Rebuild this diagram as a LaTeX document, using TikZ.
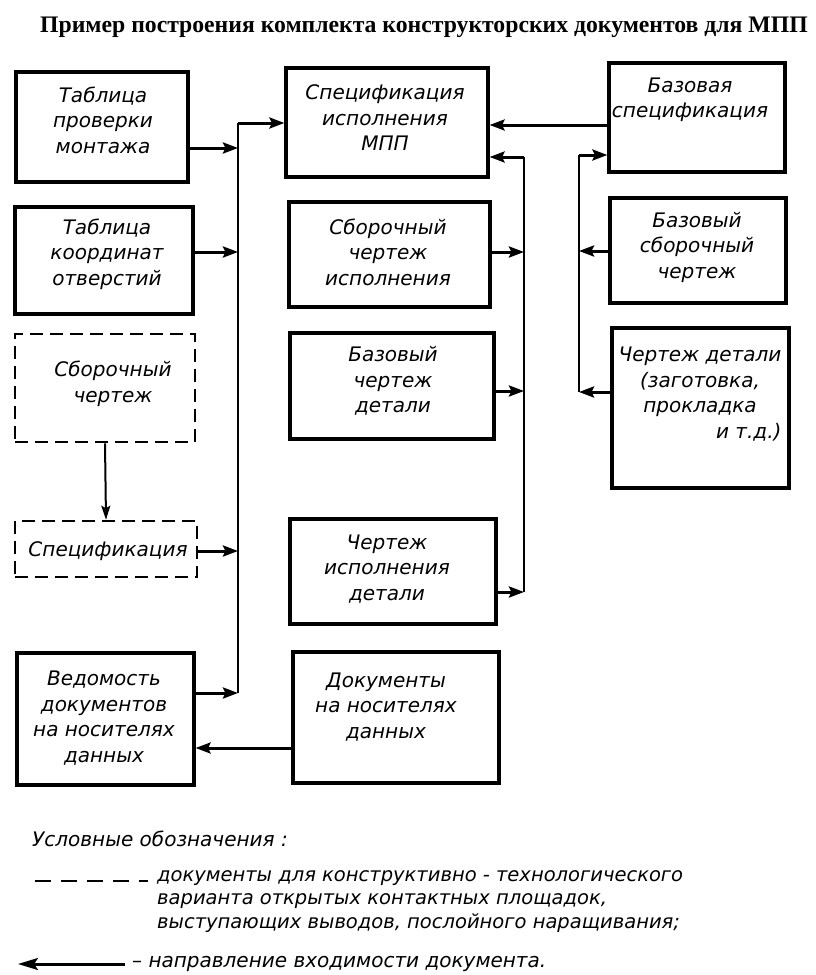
\documentclass[tikz,border=0pt]{standalone}
\usepackage{fontspec}
\setmainfont{Liberation Serif}
\newfontfamily\gost{DejaVu Sans}
\usetikzlibrary{arrows.meta}
\tikzset{
  box/.style={draw, line width=3.2pt, inner sep=0pt},
  dbox/.style={draw, line width=2.6pt, inner sep=0pt, dash pattern=on 13pt off 7pt},
  lbl/.style={font=\gost\itshape\fontsize{20}{25.5}\selectfont, align=center, inner sep=0pt},
  arr/.style={line width=3pt, -{Stealth[length=15pt,width=11pt,inset=2.5pt]}},
  thinarr/.style={line width=2pt, -{Stealth[length=14pt,width=9pt,inset=2.5pt]}},
  bus/.style={line width=2.4pt},
}
\begin{document}
\begin{tikzpicture}[x=1pt,y=-1pt]
\useasboundingbox (0,0) rectangle (816,975);

\node[font=\bfseries\fontsize{23.7}{28}\selectfont, inner sep=0pt] (title) at (424,27) {Пример построения комплекта конструкторских документов для МПП};

% left column
\node[box, minimum width=172pt, minimum height=110pt] (A) at (102,127) {};
\node[lbl] (tA) at (103,120) {Таблица\\проверки\\монтажа};
\node[box, minimum width=178pt, minimum height=107pt] (B) at (104,260.5) {};
\node[lbl] (tB) at (107,254) {Таблица\\координат\\отверстий};
\node[dbox, minimum width=180pt, minimum height=108pt] (C) at (105,388) {};
\node[lbl] (tC) at (113,384) {Сборочный\\чертеж};
\node[dbox, minimum width=182pt, minimum height=56pt] (D) at (106,549) {};
\node[lbl] (tD) at (108,551) {Спецификация};
\node[box, minimum width=177pt, minimum height=132pt] (E) at (105.5,719) {};
\node[lbl] (tE) at (104,718) {Ведомость\\документов\\на носителях\\данных};

% middle column
\node[box, minimum width=202pt, minimum height=109pt] (F) at (387,122.5) {};
\node[lbl] (tF) at (385,118) {Спецификация\\исполнения\\МПП};
\node[box, minimum width=201pt, minimum height=105pt] (G) at (389.5,254.5) {};
\node[lbl] (tG) at (388,252) {Сборочный\\чертеж\\исполнения};
\node[box, minimum width=204pt, minimum height=106pt] (H) at (392,386) {};
\node[lbl] (tH) at (393,381) {Базовый\\чертеж\\детали};
\node[box, minimum width=206pt, minimum height=105pt] (I) at (393,571.5) {};
\node[lbl] (tI) at (387,569) {Чертеж\\исполнения\\детали};
\node[box, minimum width=206pt, minimum height=131pt] (J) at (396,717.5) {};
\node[lbl] (tJ) at (386,707) {Документы\\на носителях\\данных};

% right column
\node[box, minimum width=176pt, minimum height=109pt] (K) at (697,117.5) {};
\node[lbl] (tK) at (690,100) {Базовая\\спецификация};
\node[box, minimum width=176pt, minimum height=105pt] (L) at (698,250.5) {};
\node[lbl] (tL) at (697,247) {Базовый\\сборочный\\чертеж};
\node[box, minimum width=177pt, minimum height=160pt] (M) at (700.5,408) {};
\node[lbl] (tM) at (700,394) {Чертеж детали\\(заготовка,\\прокладка\\\hfill и т.д.)};

% left bus
\coordinate (l0) at (238,123);
\coordinate (l1) at (238,148);
\coordinate (l2) at (238,252);
\coordinate (l3) at (238,551);
\coordinate (l4) at (238,693);
\draw[bus] (l0) -- (l4);
\draw[arr] (l0) -- (l0 -| F.west);
\draw[arr] (l1 -| A.east) -- (l1);
\draw[arr] (l2 -| B.east) -- (l2);
\draw[arr] (l3 -| D.east) -- (l3);
\draw[arr] (l4 -| E.east) -- (l4);

% middle bus
\coordinate (m0) at (524,157);
\coordinate (m1) at (524,252);
\coordinate (m2) at (524,391);
\coordinate (m3) at (524,592);
\draw[bus] (m0) -- (m3);
\draw[arr] (m0) -- (m0 -| F.east);
\draw[arr] (m1 -| G.east) -- (m1);
\draw[arr] (m2 -| H.east) -- (m2);
\draw[arr] (m3 -| I.east) -- (m3);

% right bus
\coordinate (r0) at (579,155);
\coordinate (r1) at (579,251);
\coordinate (r2) at (579,392);
\draw[bus] (r0) -- (r2);
\draw[arr] (r0) -- (r0 -| K.west);
\draw[arr] (r1 -| L.west) -- (r1);
\draw[arr] (r2 -| M.west) -- (r2);

% other connectors
\coordinate (k1) at (600,125);
\draw[arr] (k1 -| K.west) -- (k1 -| F.east);
\draw[thinarr] (C.south) -- (D.north);
\coordinate (j1) at (250,748);
\draw[arr] (j1 -| J.west) -- (j1 -| E.east);

% legend
\node[lbl, anchor=west] (leg) at (32,839) {Условные обозначения :};
\coordinate (ds) at (35,881);
\coordinate (de) at (148,881);
\draw[line width=2.8pt, dash pattern=on 16pt off 10pt] (ds) -- (de);
\node[lbl, anchor=north west, align=left, font=\gost\itshape\fontsize{19.5}{23.5}\selectfont] (legt) at (157,870) {документы для конструктивно - технологического\\варианта открытых контактных площадок,\\выступающих выводов, послойного наращивания;};
\coordinate (as) at (125,964);
\coordinate (ae) at (18,964);
\draw[line width=3pt, -{Stealth[length=20pt,width=12pt,inset=4pt]}] (as) -- (ae);
\node[lbl, anchor=west] (legarr) at (132,964) {– направление входимости документа.};
\end{tikzpicture}
\end{document}
